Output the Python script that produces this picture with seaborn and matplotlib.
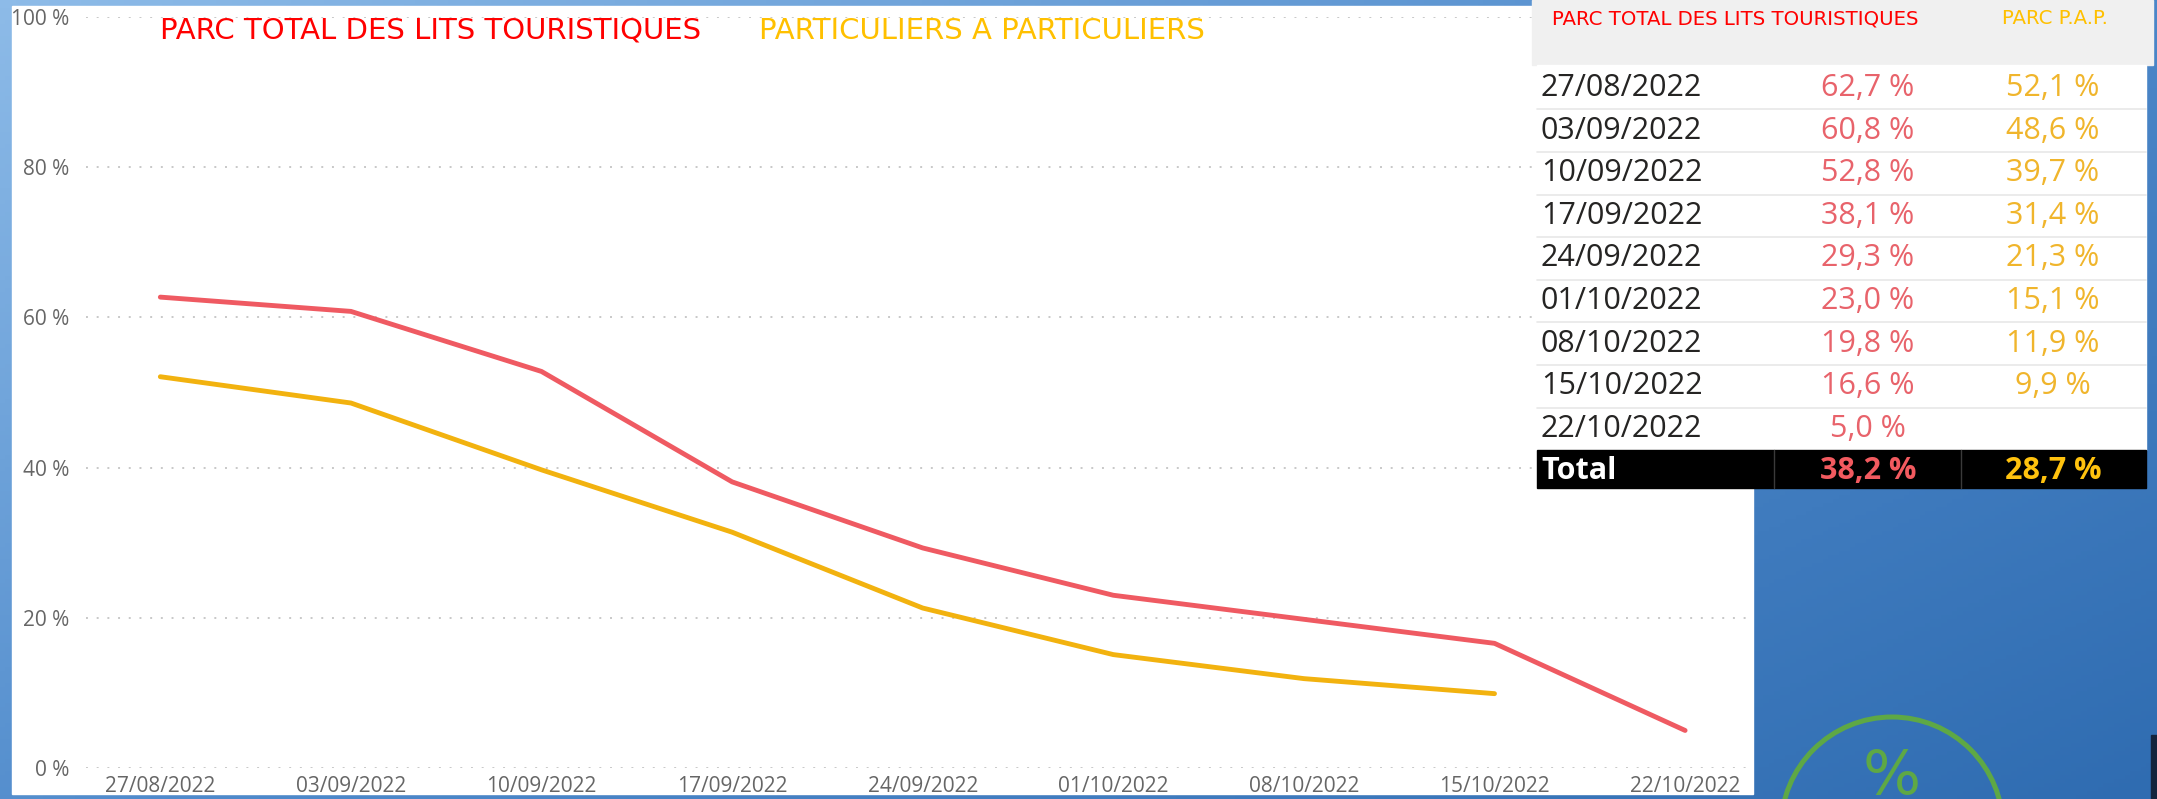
"""Parc des lits touristiques : courbe + tableau récapitulatif."""

import matplotlib

matplotlib.use("Agg")
import matplotlib.pyplot as plt
import numpy as np
import pandas as pd
import seaborn as sns
from matplotlib.colors import LinearSegmentedColormap
from matplotlib.patches import Circle, Rectangle

# données
dates = ["27/08/2022", "03/09/2022", "10/09/2022", "17/09/2022", "24/09/2022",
         "01/10/2022", "08/10/2022", "15/10/2022", "22/10/2022"]
parc_total = [62.7, 60.8, 52.8, 38.1, 29.3, 23.0, 19.8, 16.6, 5.0]
parc_pap = [52.1, 48.6, 39.7, 31.4, 21.3, 15.1, 11.9, 9.9, np.nan]
total_parc = 38.2
total_pap = 28.7
y_ticks = [0, 20, 40, 60, 80, 100]

serie_total = "PARC TOTAL DES LITS TOURISTIQUES"
serie_pap = "PARTICULIERS A PARTICULIERS"

RED = "#ef5a62"
GOLD = "#f2b20f"

W, H = 2157, 799

sns.set_theme(style="white")
plt.rcParams["font.family"] = ["DejaVu Sans"]

fig = plt.figure(figsize=(W / 100, H / 100), dpi=100)


def pixel_axes(zorder):
    a = fig.add_axes([0, 0, 1, 1], zorder=zorder)
    a.patch.set_alpha(0)
    a.axis("off")
    return a


# fond bleu en dégradé + panneau blanc du graphique
bg = pixel_axes(0)
yy, xx = np.mgrid[0:1:200j, 0:1:400j]
grad = 0.55 * xx + 0.45 * yy
cmap = LinearSegmentedColormap.from_list("bleu", ["#8dbbe8", "#4f8acb", "#2f6cb1"])
bg.imshow(grad, extent=(0, W, H, 0), cmap=cmap, aspect="auto")
bg.add_patch(Rectangle((12, 6), 1741, 788, color="white"))
bg.set_xlim(0, W)
bg.set_ylim(H, 0)

# graphique
ax = fig.add_axes([86 / W, 1 - 768 / H, (1748 - 86) / W, (768 - 17) / H], zorder=1)
ax.patch.set_alpha(0)
df = pd.DataFrame({
    "date": dates * 2,
    "valeur": parc_total + parc_pap,
    "serie": [serie_total] * len(dates) + [serie_pap] * len(dates),
})
sns.lineplot(data=df, x="date", y="valeur", hue="serie",
             palette={serie_total: RED, serie_pap: GOLD},
             linewidth=3.5, sort=False, legend=False, ax=ax)
for line in ax.lines:
    line.set_solid_capstyle("round")
    line.set_solid_joinstyle("round")

ax.set_xlim(-0.39, 8.33)
ax.set_ylim(0, 100)
ax.set_yticks(y_ticks)
ax.set_yticklabels([f"{v} %" for v in y_ticks])
ax.set_xlabel("")
ax.set_ylabel("")
ax.yaxis.grid(True, linestyle=(0, (1, 4.5)), color="#c8c8c8", linewidth=1.4)
ax.xaxis.grid(False)
for s in ax.spines.values():
    s.set_visible(False)
ax.tick_params(axis="y", length=0, pad=12, labelsize=15, labelcolor="#666666")
ax.tick_params(axis="x", length=0, pad=6, labelsize=15, labelcolor="#666666")
for lab in ax.get_xticklabels() + ax.get_yticklabels():
    lab.set_family("Open Sans")

# calque du dessus : titres, tableau, jauge
top = pixel_axes(2)
top.set_xlim(0, W)
top.set_ylim(H, 0)

top.text(160, 31, serie_total, color="#ff0000", fontsize=21, va="center")
top.text(759, 31, serie_pap, color="#ffc000", fontsize=21, va="center")

# tableau
top.add_patch(Rectangle((1532, 0), 621, 65, color="#f0f0f0"))
top.add_patch(Rectangle((1537, 65), 609, 385, color="white"))
top.text(1552, 19, serie_total, color="#ff0000", fontsize=14.2, va="center")
top.text(2002, 19, "PARC P.A.P.", color="#ffc000", fontsize=14.2, va="center")

row0, row_h = 88, 42.6
x_date, x_total, x_pap = 1541, 1868, 2053


def fmt(v):
    return f"{v:.1f}".replace(".", ",") + " %"


for i, d in enumerate(dates):
    y = row0 + i * row_h
    if i < len(dates) - 1:
        top.plot([1537, 2146], [y + row_h / 2] * 2, color="#e8e8e8", lw=1.2)
    top.text(x_date, y, d, color="#252423", fontsize=22, va="center",
             family="Open Sans")
    top.text(x_total, y, fmt(parc_total[i]), color="#e8636b", fontsize=22,
             va="center", ha="center", family="Open Sans")
    if not np.isnan(parc_pap[i]):
        top.text(x_pap, y, fmt(parc_pap[i]), color="#f0b52c", fontsize=22,
                 va="center", ha="center", family="Open Sans")

# ligne Total
top.add_patch(Rectangle((1537, 450), 609, 38, color="black"))
for xd in (1774, 1961):
    top.plot([xd, xd], [450, 488], color="#3a3a3a", lw=1)
y_tot = 471
top.text(x_date, y_tot, "Total", color="white", fontsize=22, weight="bold",
         va="center", family="Open Sans")
top.text(x_total, y_tot, fmt(total_parc), color="#f25a5f", fontsize=22,
         weight="bold", va="center", ha="center", family="Open Sans")
top.text(x_pap, y_tot, fmt(total_pap), color="#ffc20e", fontsize=22,
         weight="bold", va="center", ha="center", family="Open Sans")

# jauge coupée en bas à droite (coupée aussi dans l'original)
top.add_patch(Circle((1892, 828), 111, fill=False, ec="#5ea845", lw=3.6))
top.text(1892, 748, "%", color="#5ea845", fontsize=44, ha="center", va="top")
top.add_patch(Rectangle((2151, 735), 6, 64, color="#13243d"))

fig.savefig("out.png", dpi=100)
plt.close(fig)
